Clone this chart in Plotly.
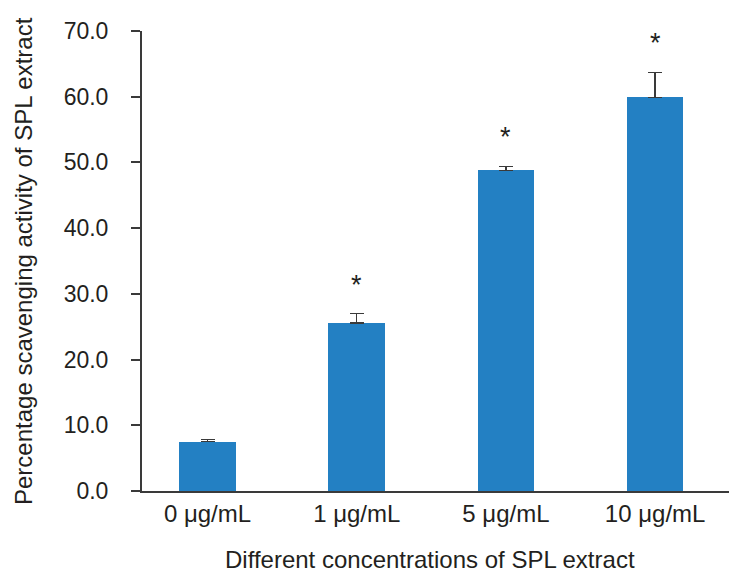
import plotly.graph_objects as go

categories = ["0 μg/mL", "1 μg/mL", "5 μg/mL", "10 μg/mL"]
values = [7.5, 25.6, 48.8, 59.9]
errors = [0.3, 1.4, 0.6, 3.8]
significant = [False, True, True, True]
y_ticks = [0, 10, 20, 30, 40, 50, 60, 70]
y_tick_labels = ["0.0", "10.0", "20.0", "30.0", "40.0", "50.0", "60.0", "70.0"]
x_title = "Different concentrations of SPL extract"
y_title = "Percentage scavenging activity of SPL extract"

BAR = "#2380c3"
INK = "#231f20"
AXIS = "#3a3a3a"
FONT = "Liberation Sans, Arial, sans-serif"

x_idx = list(range(len(categories)))

fig = go.Figure()
fig.add_trace(go.Bar(
    x=x_idx, y=values, width=0.38,
    marker=dict(color=BAR, line=dict(width=0)),
    error_y=dict(type="data", array=errors, arrayminus=[0] * len(errors),
                 symmetric=False, color=AXIS, thickness=1.5, width=7),
    showlegend=False,
))

for i, (v, e, s) in enumerate(zip(values, errors, significant)):
    if s:
        fig.add_annotation(x=i, y=v + e + 4.4, text="*", showarrow=False,
                           font=dict(size=27, color=INK, family=FONT),
                           xanchor="center", yanchor="middle")

fig.add_annotation(text=x_title, xref="paper", yref="paper", x=0.4906, y=-0.149,
                   xanchor="center", yanchor="middle", showarrow=False,
                   borderpad=0,
                   font=dict(size=24, color=INK, family=FONT))
fig.add_annotation(text=y_title, xref="paper", yref="paper", x=-0.2027, y=0.5,
                   xanchor="center", yanchor="middle", showarrow=False, textangle=-90,
                   font=dict(size=24, color=INK, family=FONT))

fig.update_layout(
    width=721, height=567,
    margin=dict(l=134, r=0, t=23, b=84),
    paper_bgcolor="white", plot_bgcolor="white",
    font=dict(family=FONT, color=INK),
    bargap=0,
)
fig.update_xaxes(
    range=[-0.439, 3.495], automargin=False,
    tickmode="array", tickvals=x_idx, ticktext=categories,
    tickfont=dict(size=24, color=INK),
    ticks="", showgrid=False, zeroline=False,
    showline=True, linecolor=AXIS, linewidth=2,
    ticklabelstandoff=0,
)
fig.update_yaxes(
    range=[0, 70], automargin=False,
    tickmode="array", tickvals=y_ticks, ticktext=y_tick_labels,
    tickfont=dict(size=23, color=INK),
    ticks="outside", ticklen=9, tickwidth=2, tickcolor=AXIS,
    showgrid=False, zeroline=False,
    showline=True, linecolor=AXIS, linewidth=2,
    ticklabelstandoff=18,
)

fig.write_html("out.html")
